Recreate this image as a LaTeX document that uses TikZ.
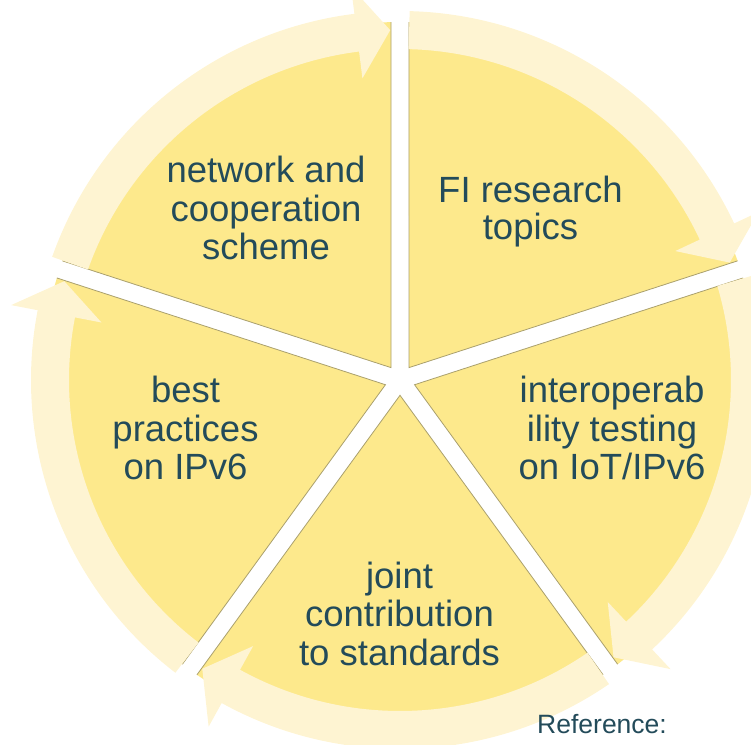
\documentclass[tikz,border=0pt]{standalone}
\usepackage{fontspec}
\setmainfont{Liberation Sans}
\definecolor{wedgefill}{RGB}{253,233,140}
\definecolor{wedgeedge}{RGB}{170,160,110}
\definecolor{ringfill}{RGB}{254,244,210}
\definecolor{labeltext}{RGB}{35,75,90}
\tikzset{
  wedgeshape/.style={fill=wedgefill},
  wedgeline/.style={draw=wedgeedge, line width=0.8pt, line join=miter},
  ringarrow/.style={fill=ringfill},
  lbl/.style={text=labeltext, align=center, inner sep=0pt, anchor=base,
    font=\fontsize{36.5pt}{38.5pt}\selectfont},
  reflbl/.style={text=labeltext, inner sep=0pt, anchor=base west,
    font=\fontsize{26.5pt}{30pt}\selectfont}
}
\begin{document}
\begin{tikzpicture}[x=1pt,y=1pt]
\useasboundingbox (0,0) rectangle (751,744);
\clip (0,0) rectangle (751,744);
\begin{scope}[shift={(400pt,364pt)}]
  % wedges
  \foreach \a in {18,-54,-126,-198,90}{
    \fill[wedgeshape] ({\a+36}:15.3pt) -- ({\a+1.44}:358pt)
      arc[start angle={\a+1.44}, end angle={\a+70.56}, radius=358pt] -- cycle;
    \draw[wedgeline] ({\a+1.44}:358pt) -- ({\a+36}:15.3pt) -- ({\a+70.56}:358pt);
  }
  % circular arrows (clockwise)
  \foreach \g/\n in {90/18, 18/-54, -54/-126, -126/-198, -198/-270}{
    \fill[ringarrow] ({\g-1.5}:369pt)
      arc[start angle={\g-1.5}, end angle={\n+7.1}, radius=369pt]
      -- ({\n+7.1}:396pt) -- ({\n+1.6}:350pt) -- ({\n+7.1}:304pt)
      -- ({\n+7.1}:331pt)
      arc[start angle={\n+7.1}, end angle={\g-1.5}, radius=331pt] -- cycle;
  }
\end{scope}
\node[lbl] (net) at (266,484) {network and\\cooperation\\scheme};
\node[lbl, font=\fontsize{36.5pt}{37pt}\selectfont] (fi) at (530.5,504) {FI research\\topics};
\node[lbl] (interop) at (612,264) {interoperab\\ility testing\\on IoT/IPv6};
\node[lbl] (joint) at (399.5,79) {joint\\contribution\\to standards};
\node[lbl] (best) at (185.5,264) {best\\practices\\on IPv6};
\node[reflbl] (ref) at (537,11) {Reference:};
\end{tikzpicture}
\end{document}
